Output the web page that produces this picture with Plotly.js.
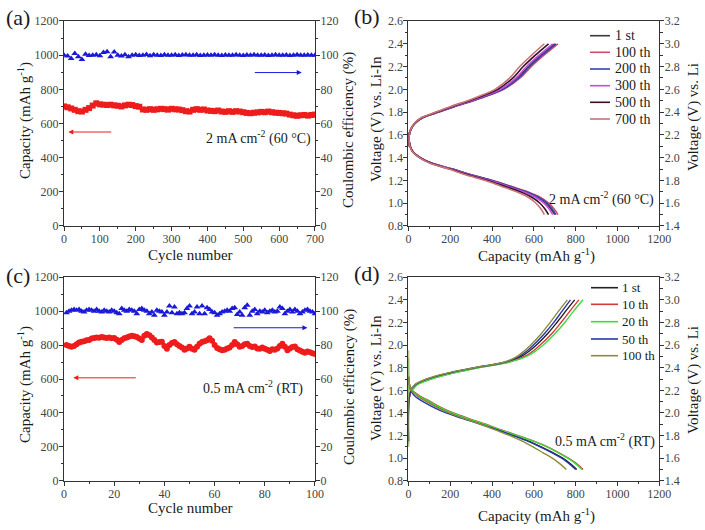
<!DOCTYPE html>
<html><head><meta charset="utf-8">
<script src="https://cdn.plot.ly/plotly-3.0.1.min.js"></script>
<style>html,body{margin:0;padding:0;background:#fff}#chart{width:705px;height:530px}</style>
</head><body><div id="chart"></div>
<script>
// ---------- Panel (a): long cycling, 2 mA cm-2, 60 C ----------
const cycleA = [0,10,20,30,40,50,60,70,80,90,100,110,120,130,140,150,160,170,180,190,200,210,220,230,240,250,260,270,280,290,300,310,320,330,340,350,360,370,380,390,400,410,420,430,440,450,460,470,480,490,500,510,520,530,540,550,560,570,580,590,600,610,620,630,640,650,660,670,680,690,700];
const capA = [700,695,688,680,672,670,680,690,705,718, 712,710,708,710,706,704,700,706,710,708, 702,698,682,680,684,680,683,686,684,681, 686,683,682,678,672,670,680,684,680,682, 676,674,672,676,670,668,672,668,672,670, 666,662,660,663,665,668,666,670,666,663, 662,660,658,652,648,645,648,650,646,650,652];
const ceA = [100,99.5,98,101,99,97.5,100.5,99.8,100,100.3, 99.6,101.5,102,99,101.8,100,99.5,100.2,99,100, 100.3,99.8,100,100.4,99.7,100.2,100,99.8,100.3,100, 99.9,100.2,99.8,100.1,100.3,99.9,100,100.2,99.8,100, 100.1,99.9,100.2,100,99.8,100.1,100,99.9,100.2,100, 99.8,100.1,100,100.2,99.9,100,100.1,99.8,100,100.2, 99.9,100,100.1,99.8,100,100.2,99.9,100,100.1,99.9,100];

// ---------- Panel (c): 0.5 mA cm-2, RT ----------
const cycleC = [1,2,3,4,5,6,7,8,9,10,11,12,13,14,15,16,17,18,19,20,21,22,23,24,25,26,27,28,29,30,31,32,33,34,35,36,37,38,39,40,41,42,43,44,45,46,47,48,49,50,51,52,53,54,55,56,57,58,59,60,61,62,63,64,65,66,67,68,69,70,71,72,73,74,75,76,77,78,79,80,81,82,83,84,85,86,87,88,89,90,91,92,93,94,95,96,97,98,99,100];
const capC = [800,795,790,795,805,815,820,822,828,830, 838,842,845,843,848,845,842,845,840,842, 832,818,830,840,845,850,855,852,848,838, 830,855,865,858,845,830,815,818,820,795, 778,800,812,818,805,795,785,772,780,790, 778,772,790,808,818,822,828,840,825,800, 782,775,770,772,780,785,800,818,805,790, 795,805,808,795,788,792,780,778,785,778, 772,765,775,772,780,795,808,790,770,780, 788,792,775,768,760,755,762,758,752,748];
const ceC = [99,100,100.5,101,100.5,101,100,99.5,100.5,101, 100.5,100,101,100,99.5,100.5,100,99.5,100.5,100, 99,98.5,101.5,100.5,100,101,100.5,100,98.5,101, 101.5,100.5,100,98.5,99.5,97.5,100.5,100,99.5,97.5, 99.5,103,99,102.5,98.5,99,98.5,99,101.5,103, 98.5,99.5,102.5,98.5,103,98.5,102,101,99.5,99, 97.5,98.5,99.5,100,100.5,100,101.5,102,98,99.5, 97.5,102,103.5,97.5,100,101,98.5,100,99.5,100.5, 99,100,100.5,99.5,100,102.5,101.5,98.5,100,101, 99.5,101,100,98.5,99.5,100.5,101,100,99.5,98.5];

// ---------- Panel (b): voltage profiles, 2 mA cm-2, 60 C ----------
const namesB = ['1 st','100 th','200 th','300 th','500 th','700 th'];
const vDisB = [1.62,1.55,1.5,1.45,1.4,1.35,1.3,1.25,1.2,1.15,1.1,1.05,1.0,0.95,0.9];
const vChgB = [1.5,1.6,1.65,1.7,1.75,1.8,1.85,1.9,1.95,2.0,2.1,2.2,2.3,2.4];
const qDisB = [
  [0,3,8,22,56,112,208,295,396,477,558,619,657,682,700],
  [0,3,8,23,57,114,212,301,404,487,570,632,671,697,715],
  [0,3,8,22,56,113,210,298,399,481,563,624,662,687,705],
  [0,3,8,22,55,110,205,290,390,470,550,610,648,673,690],
  [0,3,8,21,53,107,199,282,379,457,534,592,629,653,670],
  [0,3,7,20,52,104,193,273,368,443,518,575,610,634,650]
];
const qChgB = [
  [0,4,12,30,66,142,218,304,380,446,522,574,634,700],
  [0,4,12,31,68,146,223,311,389,456,534,587,648,715],
  [0,4,12,30,67,144,220,307,384,450,527,579,639,705],
  [0,4,12,30,65,140,215,300,375,440,515,565,625,690],
  [0,4,11,29,63,136,209,291,364,427,500,549,607,670],
  [0,4,11,28,61,132,203,283,353,414,485,532,589,650]
];
const colorsB = ['#3a3a3a','#d04a66','#3344aa','#c94ade','#3a1028','#c87474'];

// ---------- Panel (d): voltage profiles, 0.5 mA cm-2, RT ----------
const namesD = ['1 st','10 th','20 th','50 th','100 th'];
const vDisD = [1.72,1.65,1.6,1.55,1.5,1.45,1.4,1.35,1.3,1.25,1.2,1.15,1.1,1.05,1.0,0.95,0.9];
const vChgD = [1.15,1.5,1.6,1.65,1.7,1.75,1.8,1.85,1.9,1.95,2.0,2.1,2.2,2.3,2.4];
const qDisD = [
  [0,5,16,45,90,140,200,275,355,430,505,575,635,690,738,775,805],
  [0,5,18,55,105,155,215,290,370,445,525,600,665,718,765,805,835],
  [0,4,15,50,100,150,210,285,365,440,520,597,662,715,762,800,830],
  [0,3,10,30,70,120,180,260,345,425,500,570,630,685,733,770,800],
  [0,4,14,42,88,135,195,268,345,415,485,545,595,642,688,725,755]
];
const qChgD = [
  [0,2,12,35,95,190,320,470,540,580,612,665,710,752,795],
  [0,2,14,40,105,205,330,480,555,598,630,685,730,772,815],
  [0,2,15,42,110,210,335,485,565,610,645,700,748,790,835],
  [0,2,12,33,90,185,318,465,530,568,598,650,695,735,775],
  [0,2,10,30,85,180,315,460,520,555,585,635,678,718,760]
];
// charge onset spikes at zero capacity (20 th and 100 th)
const onsetQD = [null, null, [0,0,2], null, [0,0,2]];
const onsetVD = [null, null, [1.12,1.88,1.68], null, [1.1,1.95,1.7]];
const colorsD = ['#222222','#d63a3a','#3ddc3d','#2a36a8','#8c8c40'];

// ---------- build ----------
const FONT = '"Liberation Serif", "Times New Roman", serif';
const RED = '#ee1c1c', BLUE = '#1a1ad6';
const traces = [];
traces.push({x:cycleA, y:capA, xaxis:'x', yaxis:'y', mode:'markers', type:'scatter', showlegend:false, hoverinfo:'skip',
  marker:{symbol:'square', size:6, color:RED}});
traces.push({x:cycleA, y:ceA, xaxis:'x', yaxis:'y2', mode:'markers', type:'scatter', showlegend:false, hoverinfo:'skip',
  marker:{symbol:'triangle-up', size:6, color:BLUE}});
traces.push({x:cycleC, y:capC, xaxis:'x3', yaxis:'y5', mode:'markers', type:'scatter', showlegend:false, hoverinfo:'skip',
  marker:{symbol:'circle', size:6, color:RED}});
traces.push({x:cycleC, y:ceC, xaxis:'x3', yaxis:'y6', mode:'markers', type:'scatter', showlegend:false, hoverinfo:'skip',
  marker:{symbol:'triangle-up', size:6, color:BLUE}});
namesB.forEach((n,i)=>{
  traces.push({x:qDisB[i].concat([null], qChgB[i]), y:vDisB.concat([null], vChgB), xaxis:'x2', yaxis:'y3',
    type:'scatter', mode:'lines', name:n, showlegend:false, hoverinfo:'skip',
    line:{color:colorsB[i], width:1.6, shape:'spline', smoothing:1}});
});
namesD.forEach((n,i)=>{
  let cq = qChgD[i], cv = vChgD;
  if (onsetQD[i]) { cq = onsetQD[i].concat(qChgD[i].slice(2)); cv = onsetVD[i].concat(vChgD.slice(2)); }
  traces.push({x:qDisD[i].concat([null], cq), y:vDisD.concat([null], cv), xaxis:'x4', yaxis:'y7',
    type:'scatter', mode:'lines', name:n, showlegend:false, hoverinfo:'skip',
    line:{color:colorsD[i], width:1.4, shape:'spline', smoothing:1}});
});
// invisible anchors for the right-hand voltage axes
traces.push({x:[0], y:[1.4], xaxis:'x2', yaxis:'y4', mode:'markers', marker:{opacity:0}, showlegend:false, hoverinfo:'skip'});
traces.push({x:[0], y:[1.4], xaxis:'x4', yaxis:'y8', mode:'markers', marker:{opacity:0}, showlegend:false, hoverinfo:'skip'});

function axis(o){
  const base = {showline:true, linecolor:'#333', linewidth:1, ticks:'outside', ticklen:4, tickwidth:1, tickcolor:'#333',
    showgrid:false, zeroline:false, fixedrange:true, ticklabelstandoff:-2,
    tickfont:{family:FONT, size:12, color:'#444'}};
  return Object.assign(base, o);
}
function mn(d){ return {ticks:'outside', ticklen:2.5, tickwidth:1, dtick:d, tickcolor:'#333'}; }
const dXL = [0.0908, 0.4468], dXR = [0.5794, 0.9352];
const dYT = [0.5736, 0.9604], dYB = [0.0928, 0.4770];

const W = 705, H = 530;
const annotations = [];
function txt(px, py, text, size, opts){
  annotations.push(Object.assign({xref:'paper', yref:'paper', x:px/W, y:1-py/H, xanchor:'center', yanchor:'middle',
    text:text, showarrow:false, font:{family:FONT, size:size, color:'#1a1a1a'}}, opts||{}));
}
// panel labels
txt(4, 18, '(a)', 22, {xanchor:'left'});
txt(352, 17, '(b)', 22, {xanchor:'left'});
txt(4, 275, '(c)', 22, {xanchor:'left'});
txt(352, 273, '(d)', 22, {xanchor:'left'});
// axis titles
const capTitle = 'Capacity (mAh g<sup>-1</sup>)';
txt(24, 121, capTitle, 15, {textangle:-90});
txt(349, 130, 'Coulombic efficiency (%)', 15, {textangle:-90});
txt(190, 255, 'Cycle number', 15);
txt(376, 119, 'Voltage (V) vs. Li-In', 15, {textangle:-90});
txt(693, 117, 'Voltage (V) vs. Li', 15, {textangle:-90});
txt(536, 255, capTitle, 15);
txt(24, 385, capTitle, 15, {textangle:-90});
txt(349, 387, 'Coulombic efficiency (%)', 15, {textangle:-90});
txt(190, 508, 'Cycle number', 15);
txt(376, 378, 'Voltage (V) vs. Li-In', 15, {textangle:-90});
txt(693, 380, 'Voltage (V) vs. Li', 15, {textangle:-90});
txt(536, 515, capTitle, 15);

// legends (line samples + labels) for (b) and (d)
const shapes = [];
const legYB = [35.7, 52.3, 69, 85.7, 102.3, 119];
namesB.forEach((n,i)=>{
  shapes.push({type:'line', xref:'paper', yref:'paper', x0:590/W, x1:610/W, y0:1-legYB[i]/H, y1:1-legYB[i]/H, line:{color:colorsB[i], width:1.6}});
  txt(613, legYB[i], n, 14, {xanchor:'left'});
});
const legYD = [287.7, 304.3, 321.7, 339, 355.7];
namesD.forEach((n,i)=>{
  shapes.push({type:'line', xref:'paper', yref:'paper', x0:591/W, x1:618/W, y0:1-legYD[i]/H, y1:1-legYD[i]/H, line:{color:colorsD[i], width:1.6}});
  txt(620, legYD[i], n, 13, {xanchor:'left'});
});

// condition labels
annotations.push({xref:'x', yref:'y', x:695, y:520, xanchor:'right', yanchor:'middle', text:'2 mA cm<sup>-2</sup> (60 °C)', showarrow:false, font:{family:FONT,size:14,color:'#1a1a1a'}});
annotations.push({xref:'x2', yref:'y3', x:1185, y:1.04, xanchor:'right', yanchor:'middle', text:'2 mA cm<sup>-2</sup> (60 °C)', showarrow:false, font:{family:FONT,size:14,color:'#1a1a1a'}});
annotations.push({xref:'x3', yref:'y5', x:96, y:548, xanchor:'right', yanchor:'middle', text:'0.5 mA cm<sup>-2</sup> (RT)', showarrow:false, font:{family:FONT,size:14,color:'#1a1a1a'}});
annotations.push({xref:'x4', yref:'y7', x:1190, y:1.16, xanchor:'right', yanchor:'middle', text:'0.5 mA cm<sup>-2</sup> (RT)', showarrow:false, font:{family:FONT,size:14,color:'#1a1a1a'}});
// arrows
annotations.push({xref:'x', yref:'y', x:12, y:550, axref:'x', ayref:'y', ax:136, ay:550, text:'', showarrow:true, arrowhead:2, arrowsize:1, arrowwidth:1, arrowcolor:RED, standoff:0});
annotations.push({xref:'x', yref:'y', x:663, y:898, axref:'x', ayref:'y', ax:528, ay:898, text:'', showarrow:true, arrowhead:2, arrowsize:1, arrowwidth:1, arrowcolor:BLUE, standoff:0});
annotations.push({xref:'x3', yref:'y5', x:3.7, y:607, axref:'x3', ayref:'y5', ax:29.2, ay:607, text:'', showarrow:true, arrowhead:2, arrowsize:1, arrowwidth:1, arrowcolor:RED, standoff:0});
annotations.push({xref:'x3', yref:'y5', x:97, y:902, axref:'x3', ayref:'y5', ax:67, ay:902, text:'', showarrow:true, arrowhead:2, arrowsize:1, arrowwidth:1, arrowcolor:BLUE, standoff:0});

const layout = {
  width:W, height:H, margin:{l:0,r:0,t:0,b:0}, paper_bgcolor:'#fff', plot_bgcolor:'#fff',
  font:{family:FONT, color:'#222'}, showlegend:false,
  xaxis: axis({domain:dXL, anchor:'y', range:[0,700], dtick:100, mirror:true, minor:mn(50)}),
  yaxis: axis({domain:dYT, anchor:'x', range:[0,1200], dtick:200, minor:mn(100)}),
  yaxis2: axis({overlaying:'y', side:'right', anchor:'x', range:[0,120], dtick:20, minor:mn(10)}),
  xaxis2: axis({domain:dXR, anchor:'y3', range:[0,1200], dtick:200, mirror:true, minor:mn(100)}),
  yaxis3: axis({domain:dYT, anchor:'x2', range:[0.8,2.6], dtick:0.2, tickformat:'.1f', minor:mn(0.1)}),
  yaxis4: axis({overlaying:'y3', side:'right', anchor:'x2', range:[1.4,3.2], dtick:0.2, tickformat:'.1f', minor:mn(0.1)}),
  xaxis3: axis({domain:dXL, anchor:'y5', range:[0,100], dtick:20, mirror:true, minor:mn(10)}),
  yaxis5: axis({domain:dYB, anchor:'x3', range:[0,1200], dtick:200, minor:mn(100)}),
  yaxis6: axis({overlaying:'y5', side:'right', anchor:'x3', range:[0,120], dtick:20, minor:mn(10)}),
  xaxis4: axis({domain:dXR, anchor:'y7', range:[0,1200], dtick:200, mirror:true, minor:mn(100)}),
  yaxis7: axis({domain:dYB, anchor:'x4', range:[0.8,2.6], dtick:0.2, tickformat:'.1f', minor:mn(0.1)}),
  yaxis8: axis({overlaying:'y7', side:'right', anchor:'x4', range:[1.4,3.2], dtick:0.2, tickformat:'.1f', minor:mn(0.1)}),
  shapes: shapes,
  annotations: annotations
};
Plotly.newPlot('chart', traces, layout, {staticPlot:true, displayModeBar:false});
</script>
</body></html>
